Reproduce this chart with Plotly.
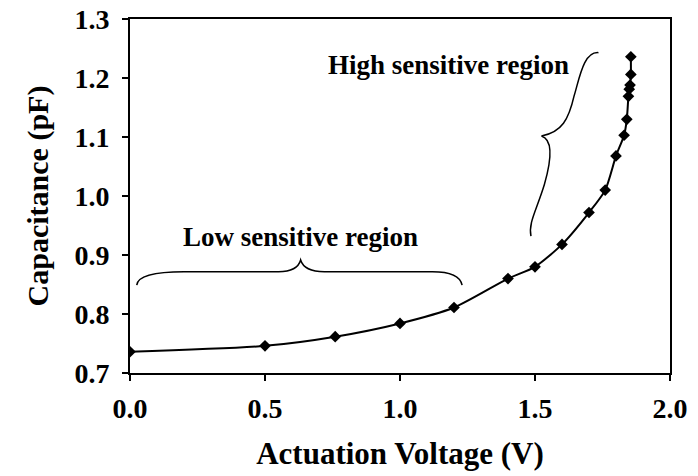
import plotly.graph_objects as go

voltage = [0.0, 0.5, 0.76, 1.0, 1.2, 1.4, 1.5, 1.6, 1.7, 1.76, 1.8, 1.83, 1.84, 1.846, 1.849, 1.852, 1.855, 1.855]
capacitance = [0.736, 0.746, 0.7615, 0.784, 0.811, 0.860, 0.880, 0.918, 0.972, 1.010, 1.068, 1.103, 1.130, 1.169, 1.181, 1.188, 1.206, 1.236]

x_ticks = [0.0, 0.5, 1.0, 1.5, 2.0]
y_ticks = [0.7, 0.8, 0.9, 1.0, 1.1, 1.2, 1.3]

FONT = "Liberation Serif"

fig = go.Figure()
fig.add_trace(go.Scatter(
    x=voltage, y=capacitance, mode="lines+markers",
    line=dict(color="black", width=2, shape="spline", smoothing=0.7),
    marker=dict(symbol="diamond", size=9, color="black"),
    showlegend=False,
))

# braces (annotation shapes)
low_brace = ("M 0.025,0.849 Q 0.03,0.8717 0.2,0.8717 L 0.55,0.8717 "
             "Q 0.62,0.8717 0.632,0.8915 Q 0.645,0.8717 0.72,0.8717 "
             "L 1.12,0.8717 Q 1.22,0.8717 1.23,0.849")
high_brace = ("M 1.735,1.243 C 1.68,1.245 1.665,1.20 1.645,1.170 "
              "C 1.625,1.130 1.600,1.108 1.524,1.1017 "
              "C 1.570,1.095 1.560,1.060 1.535,1.020 "
              "C 1.505,0.975 1.475,0.955 1.485,0.932")
for p in (low_brace, high_brace):
    fig.add_shape(type="path", path=p, xref="x", yref="y",
                  line=dict(color="black", width=1.5))

fig.add_annotation(x=1.18, y=1.222, xref="x", yref="y", text="<b>High sensitive region</b>",
                   showarrow=False, font=dict(family=FONT, size=27, color="black"))
fig.add_annotation(x=0.632, y=0.931, xref="x", yref="y", text="<b>Low sensitive region</b>",
                   showarrow=False, font=dict(family=FONT, size=27, color="black"))

axis_common = dict(showline=True, mirror=True, linecolor="black", linewidth=2,
                   ticks="outside", ticklen=6, tickwidth=2, tickcolor="black",
                   showgrid=False, zeroline=False,
                   tickfont=dict(family=FONT, size=28, color="black"))
fig.update_xaxes(range=[0, 2], tickvals=x_ticks, ticktext=[f"<b>{v:.1f}</b>" for v in x_ticks],
                 ticklabelstandoff=3,
                 title=dict(text="<b>Actuation Voltage (V)</b>", font=dict(family=FONT, size=31, color="black"), standoff=20),
                 **axis_common)
fig.update_yaxes(range=[0.7, 1.3], tickvals=y_ticks, ticktext=[f"<b>{v:.1f}</b>" for v in y_ticks],
                 ticklabelstandoff=7,
                 title=dict(text="<b>Capacitance (pF)</b>", font=dict(family=FONT, size=30, color="black"), standoff=17),
                 **axis_common)

fig.update_layout(width=698, height=476, margin=dict(l=130, r=28, t=19, b=103, autoexpand=False),
                  paper_bgcolor="white", plot_bgcolor="white")

fig.write_html("out.html", config={"displayModeBar": False},
               post_script="document.body.style.margin='0';document.body.style.overflow='hidden';")
